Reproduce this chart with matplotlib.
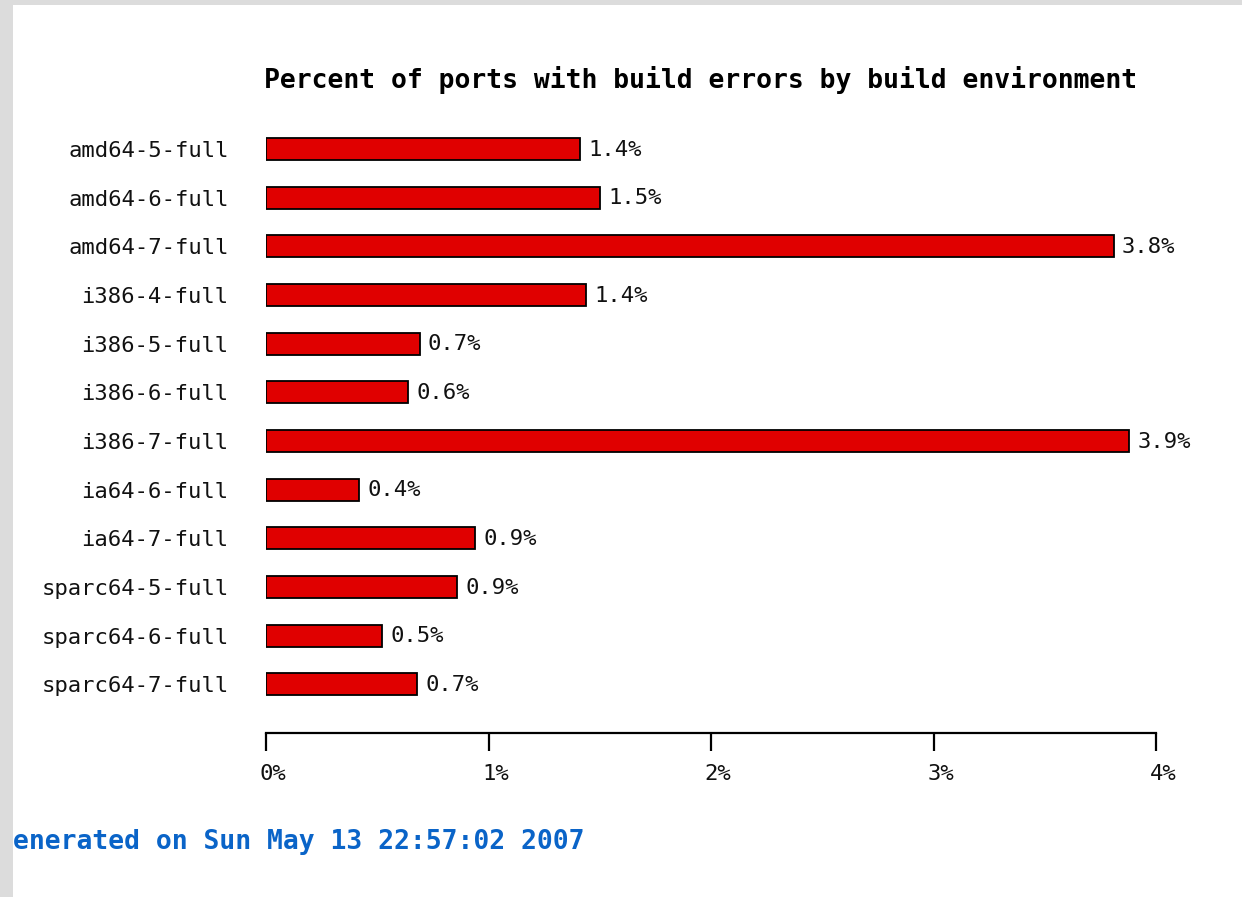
import matplotlib
matplotlib.use("Agg")
import matplotlib.pyplot as plt
import matplotlib.transforms as mtransforms
from matplotlib.patches import Rectangle

categories = ["amd64-5-full", "amd64-6-full", "amd64-7-full", "i386-4-full",
              "i386-5-full", "i386-6-full", "i386-7-full", "ia64-6-full",
              "ia64-7-full", "sparc64-5-full", "sparc64-6-full", "sparc64-7-full"]
values = [1.41, 1.50, 3.81, 1.44, 0.69, 0.64, 3.88, 0.42, 0.94, 0.86, 0.52, 0.68]
xticks = [0, 1, 2, 3, 4]
xticklabels = ["0%", "1%", "2%", "3%", "4%"]
title = "Percent of ports with build errors by build environment"
footer = "enerated on Sun May 13 22:57:02 2007"

W, H = 1242, 897
fig = plt.figure(figsize=(W / 100, H / 100), dpi=100)
fig.patch.set_facecolor("white")

# gray page border (top and left)
fig.patches.append(Rectangle((0, 1 - 5 / H), 1, 5 / H, transform=fig.transFigure,
                             facecolor="#dcdcdc", edgecolor="none", zorder=0))
fig.patches.append(Rectangle((0, 0), 13 / W, 1, transform=fig.transFigure,
                             facecolor="#dcdcdc", edgecolor="none", zorder=0))

left_px, right_px = 266, 1156
top_px, bot_px = 100.3, 733
ax = fig.add_axes([left_px / W, 1 - bot_px / H, (right_px - left_px) / W, (bot_px - top_px) / H])
ax.set_facecolor("none")

mono = "DejaVu Sans Mono"
ypos = list(range(len(categories)))
ax.barh(ypos, values, height=0.45, color="#e00000", edgecolor="black", linewidth=1.3)
ax.set_xlim(0, 4)
ax.set_ylim(12, -1)

for y, v in zip(ypos, values):
    ax.annotate(f"{v:.1f}%", xy=(v, y), xytext=(6, -0.5), textcoords="offset points",
                va="center", ha="left", family=mono, fontsize=16, color="#111111")

for s in ["top", "right", "left"]:
    ax.spines[s].set_visible(False)
ax.spines["bottom"].set_linewidth(1.6)
ax.spines["bottom"].set_color("black")

ax.set_yticks(ypos)
ax.set_yticklabels(categories, family=mono, fontsize=16, color="#111111")
ax.tick_params(axis="y", length=0, pad=27)

ax.set_xticks(xticks)
ax.set_xticklabels(xticklabels, family=mono, fontsize=16, color="#111111")
ax.tick_params(axis="x", direction="out", length=13, width=1.6, pad=9, color="black")
offset = mtransforms.ScaledTranslation(7 / 100, 0, fig.dpi_scale_trans)
for lbl in ax.get_xticklabels():
    lbl.set_transform(lbl.get_transform() + offset)

fig.text(264 / W, 1 - 80 / H, title, ha="left", va="center", family=mono,
         fontweight="bold", fontsize=19, color="black")
fig.text(13 / W, 1 - 842 / H, footer, ha="left", va="center", family=mono,
         fontweight="bold", fontsize=19, color="#0a64c8")

fig.savefig("out.png", dpi=100, facecolor="white")
